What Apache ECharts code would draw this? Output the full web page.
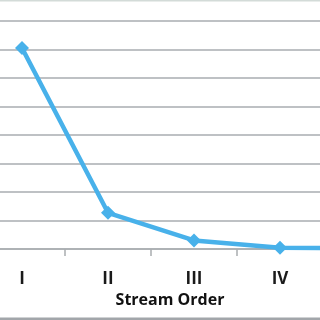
<!DOCTYPE html>
<html><head><meta charset="utf-8">
<script src="https://cdn.jsdelivr.net/npm/echarts@6/dist/echarts.min.js"></script>
<style>html,body{margin:0;padding:0;background:#fff}#c{width:320px;height:320px}</style>
</head><body><div id="c"></div>
<script>
var categories = ['I', 'II', 'III', 'IV', 'V'];
var values = [7.05, 1.27, 0.3, 0.04, 0.03];
var xName = 'Stream Order';

var chart = echarts.init(document.getElementById('c'), null, {renderer: 'canvas'});
chart.setOption({
  animation: false,
  backgroundColor: '#fff',
  grid: {left: -21, width: 430, top: 21, height: 228, containLabel: false, outerBoundsMode: 'none'},
  xAxis: {
    type: 'category', data: categories, boundaryGap: true,
    axisLine: {lineStyle: {color: '#a9adb0', width: 1.5}},
    axisTick: {show: true, length: 7, lineStyle: {color: '#a9adb0', width: 1.5}},
    axisLabel: {margin: 22, fontSize: 17, fontFamily: 'Open Sans', fontWeight: 'bold', color: '#1a1a1a'},
    name: xName, nameLocation: 'middle', nameGap: 40,
    nameTextStyle: {fontSize: 16, fontFamily: 'Open Sans', fontWeight: 'bold', color: '#111', padding: [0, 48, 0, 0]}
  },
  yAxis: {
    type: 'value', min: 0, max: 8, interval: 1,
    axisLabel: {show: false}, axisLine: {show: false}, axisTick: {show: false},
    splitLine: {lineStyle: {color: '#a9adb0', width: 1.5}}
  },
  series: [{
    type: 'line', data: values, clip: false,
    symbol: 'diamond', symbolSize: 14,
    lineStyle: {color: '#48b1ea', width: 4.5},
    itemStyle: {color: '#48b1ea'}
  }],
  graphic: [
    {type: 'rect', shape: {x: 0, y: 0, width: 320, height: 1.5}, style: {fill: '#d3dbd8'}},
    {type: 'rect', shape: {x: 0, y: 317.5, width: 320, height: 2.5}, style: {fill: '#a2a6aa'}}
  ]
});
</script></body></html>
